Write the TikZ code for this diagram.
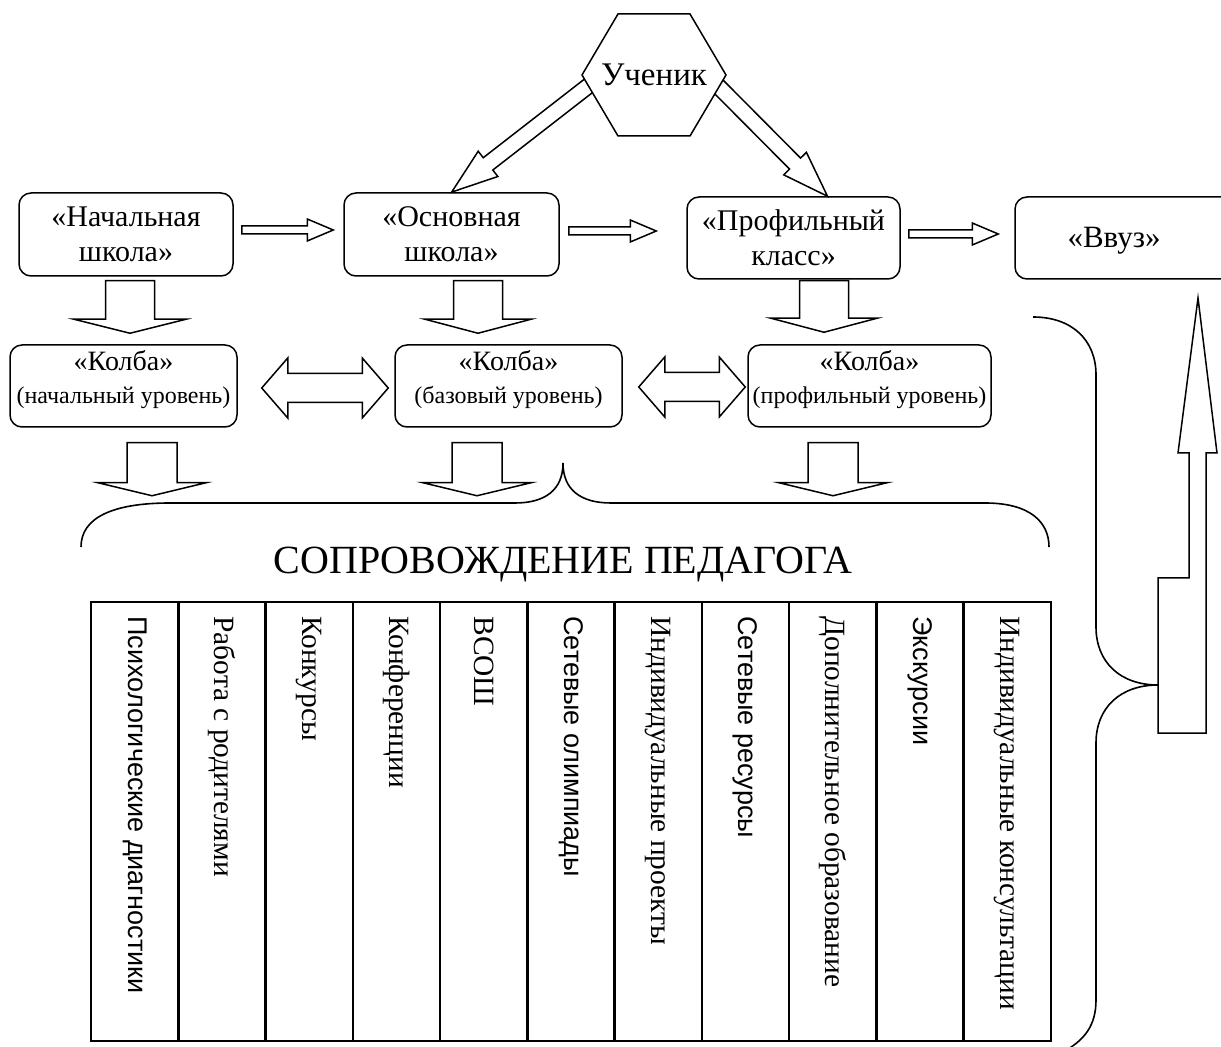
\documentclass[tikz,border=0pt]{standalone}
\usepackage{fontspec}
\setmainfont{Liberation Serif}
\setsansfont{Liberation Sans}
\usetikzlibrary{calc}
\pgfdeclarelayer{background}
\pgfsetlayers{background,main}

% hollow block arrow: from, to, half shaft, half head, head length
\newcommand{\hollowarrow}[5]{%
  \draw[arrline] let \p1=(#1), \p2=(#2), \n1={atan2(\y2-\y1,\x2-\x1)}, \n2={veclen(\x2-\x1,\y2-\y1)} in
    [shift={(\p1)}, rotate=\n1]
    (0pt,#3) -- (\n2-#5,#3) -- (\n2-#5,#4) -- (\n2,0pt) -- (\n2-#5,-#4) -- (\n2-#5,-#3) -- (0pt,-#3) -- cycle;}
% the same with a head at both ends
\newcommand{\hollowdarrow}[5]{%
  \draw[arrline] let \p1=(#1), \p2=(#2), \n1={atan2(\y2-\y1,\x2-\x1)}, \n2={veclen(\x2-\x1,\y2-\y1)} in
    [shift={(\p1)}, rotate=\n1]
    (#5,#3) -- (\n2-#5,#3) -- (\n2-#5,#4) -- (\n2,0pt) -- (\n2-#5,-#4) -- (\n2-#5,-#3)
    -- (#5,-#3) -- (#5,-#4) -- (0pt,0pt) -- (#5,#4) -- cycle;}

\begin{document}
\begin{tikzpicture}[x=0.5pt,y=0.5pt]
            \tikzstyle{every node}+=[inner sep=0pt]
            \tikzstyle{box}=[draw, rounded corners=6pt, line width=0.75pt, align=center, font=\fontsize{15}{17.5}\selectfont]
            \tikzstyle{arrline}=[line width=0.75pt, fill=white, line join=miter]
            \tikzstyle{brace}=[line width=0.8pt]
            \tikzstyle{coltext}=[rotate=-90, anchor=west]
            \useasboundingbox (0,0) rectangle (1221,-1047);
            \clip (0,0) rectangle (1221,-1047);
            % top row
            \draw [arrline] (582,-75) -- (618,-14) -- (690,-14) -- (726,-75) -- (690,-136) -- (618,-136) -- cycle;
            \node [font=\fontsize{16.5}{18}\selectfont] (pupil) at (654,-75) {Ученик};
            \node [box, minimum width=107pt, minimum height=41.5pt] (nach) at (126,-234.5) {«Начальная\\школа»};
            \node [box, minimum width=107.5pt, minimum height=41.5pt] (osn) at (451.5,-234.5) {«Основная\\школа»};
            \node [box, minimum width=106.5pt, minimum height=41pt] (prof) at (793.5,-238) {«Профильный\\класс»};
            \node [box, minimum width=112.5pt, minimum height=41pt] (vuz) at (1127.5,-238) {};
            \node [font=\fontsize{15.5}{17.5}\selectfont] (vuztext) at (1114,-241) {«Ввуз»};
            % second row
            \node [box, minimum width=113.5pt, minimum height=41pt] (kolbaA) at (123.5,-386) {{\fontsize{14}{15}\selectfont«Колба»}\\[-1pt]{\fontsize{12}{14}\selectfont(начальный уровень)}\\[-8pt]\mbox{}};
            \node [box, minimum width=113.5pt, minimum height=41pt] (kolbaB) at (508.5,-386) {{\fontsize{14}{15}\selectfont«Колба»}\\[-1pt]{\fontsize{12}{14}\selectfont(базовый уровень)}\\[-8pt]\mbox{}};
            \node [box, minimum width=121.5pt, minimum height=41pt] (kolbaC) at (869.5,-386) {{\fontsize{14}{15}\selectfont«Колба»}\\[-1pt]{\fontsize{12}{14}\selectfont(профильный уровень)}\\[-8pt]\mbox{}};
            \node [font=\fontsize{20}{24}\selectfont] (soprov) at (563,-565) {СОПРОВОЖДЕНИЕ ПЕДАГОГА};
            % arrows
            \begin{pgfonlayer}{background}
            \hollowarrow{$(pupil.center)+(-29pt,-2.5pt)$}{osn.north}{3.9pt}{8pt}{23pt}
            \hollowarrow{$(pupil.center)+(29pt,-2.5pt)$}{$(prof.north)+(17pt,0)$}{3.9pt}{8pt}{23pt}
            \end{pgfonlayer}
            \hollowarrow{$(nach.east)+(4pt,2.25pt)$}{$(osn.west)+(-5pt,2.25pt)$}{2pt}{5.5pt}{13pt}
            \hollowarrow{$(osn.east)+(4.5pt,1.75pt)$}{$(prof.west)+(-15pt,3.5pt)$}{2pt}{5.5pt}{13pt}
            \hollowarrow{$(prof.east)+(4pt,2pt)$}{$(vuz.west)+(-8pt,2pt)$}{2pt}{5.5pt}{13pt}
            \hollowarrow{$(nach.south)+(2pt,-2pt)$}{$(kolbaA.north)+(3.25pt,5.5pt)$}{12.25pt}{28pt}{7pt}
            \hollowarrow{$(osn.south)+(13.25pt,-2pt)$}{$(kolbaB.north)+(-15.25pt,5.5pt)$}{12.25pt}{26.5pt}{7pt}
            \hollowarrow{$(prof.south)+(15.25pt,-0.5pt)$}{$(kolbaC.north)+(-22.75pt,6pt)$}{12.25pt}{26.5pt}{7pt}
            \hollowdarrow{$(kolbaA.east)+(12pt,-1pt)$}{$(kolbaB.west)+(-3pt,-1pt)$}{7.25pt}{15pt}{13pt}
            \hollowdarrow{$(kolbaB.east)+(8pt,-0.5pt)$}{$(kolbaC.west)+(-1pt,-0.5pt)$}{7.25pt}{15pt}{13pt}
            \hollowarrow{$(kolbaA.south)+(14.25pt,-7.5pt)$}{$(kolbaA.south)+(14.25pt,-34pt)$}{12.5pt}{27pt}{6.5pt}
            \hollowarrow{$(kolbaB.south)+(-15.75pt,-7.5pt)$}{$(kolbaB.south)+(-15.75pt,-34pt)$}{12.5pt}{27pt}{6.5pt}
            \hollowarrow{$(kolbaC.south)+(-18.25pt,-7.5pt)$}{$(kolbaC.south)+(-18.25pt,-34pt)$}{12.5pt}{27pt}{6.5pt}
            % braces
            \draw [brace] (81,-547) .. controls (81,-518) and (112,-503) .. (170,-503) -- (515,-503)
              .. controls (545,-503) and (563,-490) .. (563,-463)
              .. controls (563,-490) and (581,-503) .. (611,-503) -- (985,-503)
              .. controls (1030,-503) and (1049,-522) .. (1049,-547);
            \draw [brace] (1033,-317) .. controls (1072,-317) and (1096,-340) .. (1096,-375) -- (1096,-627)
              .. controls (1096,-662) and (1120,-685) .. (1158,-685)
              .. controls (1120,-685) and (1096,-708) .. (1096,-743) -- (1096,-1000)
              .. controls (1096,-1025) and (1085,-1040) .. (1063,-1052);
            % arrow up to the university
            \draw [arrline] (1198,-298) -- (1217,-453) -- (1206,-453) -- (1206,-733) -- (1158,-733)
              -- (1158,-578) -- (1189,-578) -- (1189,-453) -- (1178,-453) -- cycle;
            % table
            \draw [line width=1.3pt] (91,-602) rectangle (1051,-1041);
            \foreach \i in {1,...,10}
              \draw [line width=1.3pt] (91+\i*87.27,-602) -- (91+\i*87.27,-1041);
            \foreach \f/\t [count=\i] in {\sffamily\fontsize{13.5}{16}/Психологические диагностики, \rmfamily/Работа с родителями,
                \rmfamily/Конкурсы, \rmfamily/Конференции, \rmfamily/ВСОШ, \sffamily\fontsize{13.5}{16}/Сетевые олимпиады,
                \rmfamily/Индивидуальные проекты, \sffamily\fontsize{13.5}{16}/Сетевые ресурсы, \rmfamily/Дополнительное образование,
                \sffamily\fontsize{13.5}{16}/Экскурсии, \rmfamily/Индивидуальные консультации}
              \node [coltext, font={\fontsize{14.7}{16}\f\selectfont}] (col\i) at (91+\i*87.27-43.64,-616) {\t};
\end{tikzpicture}
\end{document}
